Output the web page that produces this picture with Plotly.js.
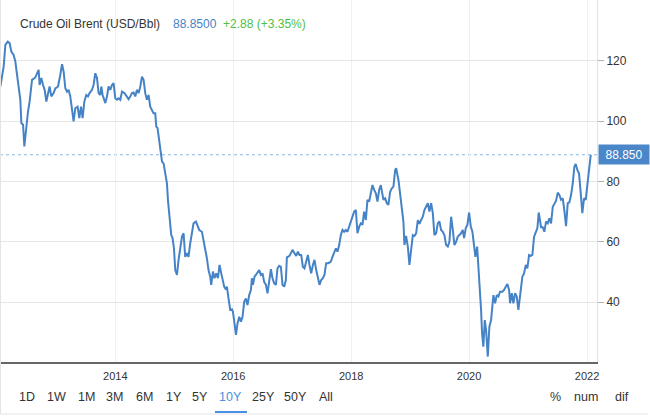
<!DOCTYPE html>
<html>
<head>
<meta charset="utf-8">
<script src="https://cdn.plot.ly/plotly-3.0.1.min.js"></script>
<style>
  html, body { margin: 0; padding: 0; background: #ffffff; }
  #chart { width: 650px; height: 417px; }
</style>
</head>
<body>
<div id="chart"></div>
<script>
// ---- data ----
const seriesName = "Crude Oil Brent (USD/Bbl)";
const lastPrice = 88.85;
const lastPriceText = "88.8500";
const changeText = "+2.88 (+3.35%)";
const lastLabel = "88.850";

// time in decimal years
const years = [
2012.051,2012.107,2012.136,2012.175,2012.208,2012.237,2012.276,2012.305,2012.334,2012.361,
2012.390,2012.407,2012.436,2012.458,2012.486,2012.520,2012.547,2012.588,2012.644,2012.683,
2012.700,2012.717,2012.746,2012.775,2012.802,2012.831,2012.859,2012.886,2012.915,2012.954,
2012.983,2013.029,2013.068,2013.097,2013.124,2013.153,2013.181,2013.208,2013.237,2013.266,
2013.293,2013.322,2013.361,2013.390,2013.419,2013.446,2013.475,2013.508,2013.537,2013.564,
2013.605,2013.632,2013.661,2013.690,2013.717,2013.746,2013.763,2013.785,2013.831,2013.859,
2013.886,2013.915,2013.944,2013.971,2014.000,2014.029,2014.056,2014.085,2014.114,2014.158,
2014.198,2014.225,2014.254,2014.283,2014.310,2014.339,2014.368,2014.395,2014.424,2014.453,
2014.480,2014.508,2014.537,2014.564,2014.593,2014.622,2014.649,2014.678,2014.695,2014.717,
2014.746,2014.775,2014.792,2014.819,2014.847,2014.876,2014.893,2014.915,2014.949,2014.971,
2014.995,2015.017,2015.046,2015.073,2015.102,2015.131,2015.158,2015.186,2015.215,2015.242,
2015.271,2015.300,2015.327,2015.368,2015.395,2015.424,2015.469,2015.497,2015.525,2015.554,
2015.581,2015.610,2015.627,2015.656,2015.683,2015.712,2015.741,2015.768,2015.797,2015.819,
2015.847,2015.876,2015.893,2015.920,2015.949,2015.978,2015.995,2016.022,2016.046,2016.073,
2016.102,2016.131,2016.158,2016.186,2016.215,2016.242,2016.271,2016.300,2016.317,2016.334,
2016.361,2016.402,2016.441,2016.469,2016.497,2016.525,2016.554,2016.581,2016.610,2016.639,
2016.666,2016.695,2016.724,2016.751,2016.780,2016.808,2016.836,2016.864,2016.893,2016.910,
2016.954,2016.983,2017.005,2017.039,2017.068,2017.097,2017.124,2017.153,2017.181,2017.208,
2017.237,2017.266,2017.293,2017.322,2017.351,2017.378,2017.407,2017.436,2017.463,2017.492,
2017.520,2017.547,2017.576,2017.615,2017.656,2017.683,2017.712,2017.741,2017.768,2017.797,
2017.825,2017.853,2017.881,2017.910,2017.937,2017.966,2017.995,2018.022,2018.051,2018.080,
2018.107,2018.136,2018.164,2018.192,2018.220,2018.249,2018.276,2018.305,2018.334,2018.361,
2018.390,2018.419,2018.446,2018.475,2018.503,2018.547,2018.576,2018.605,2018.632,2018.661,
2018.690,2018.717,2018.746,2018.763,2018.802,2018.831,2018.859,2018.886,2018.903,2018.932,
2018.961,2018.988,2019.017,2019.046,2019.073,2019.102,2019.131,2019.158,2019.186,2019.215,
2019.242,2019.271,2019.300,2019.327,2019.356,2019.385,2019.412,2019.441,2019.469,2019.497,
2019.525,2019.554,2019.581,2019.610,2019.639,2019.666,2019.695,2019.724,2019.751,2019.780,
2019.808,2019.836,2019.864,2019.893,2019.915,2019.944,2019.971,2020.000,2020.029,2020.056,
2020.085,2020.107,2020.136,2020.158,2020.186,2020.203,2020.220,2020.242,2020.266,2020.288,
2020.317,2020.344,2020.373,2020.412,2020.441,2020.469,2020.497,2020.525,2020.564,2020.593,
2020.622,2020.649,2020.678,2020.695,2020.724,2020.751,2020.780,2020.808,2020.836,2020.864,
2020.903,2020.932,2020.961,2020.988,2021.017,2021.046,2021.073,2021.102,2021.131,2021.158,
2021.181,2021.203,2021.220,2021.249,2021.276,2021.305,2021.334,2021.361,2021.390,2021.419,
2021.446,2021.475,2021.503,2021.531,2021.559,2021.588,2021.615,2021.644,2021.673,2021.700,
2021.729,2021.758,2021.785,2021.808,2021.836,2021.864,2021.893,2021.920,2021.949,2021.978,
2022.005,2022.034,2022.063
];

// Brent price, USD per barrel
const prices = [
111.5,118.1,125.3,126.4,125.9,123.1,122.0,119.8,115.4,110.9,
107.1,99.4,98.8,91.6,97.7,103.2,106.5,113.7,114.5,115.9,
117.0,112.0,114.3,112.0,110.4,106.5,109.8,111.5,108.2,109.3,
110.9,111.5,115.4,118.9,116.4,110.9,109.8,110.4,108.2,103.2,
99.9,104.3,104.8,101.0,104.8,101.0,106.5,108.7,108.2,109.3,
110.4,112.0,115.9,114.3,109.3,108.7,111.5,108.7,106.0,108.2,
111.5,110.4,112.0,112.6,107.6,107.1,107.6,107.1,109.8,109.3,
108.2,107.3,108.2,109.3,109.5,108.2,110.4,109.3,111.5,114.8,
113.7,109.3,107.1,108.7,104.8,103.7,102.6,102.6,98.2,97.7,
92.7,89.4,86.6,86.0,82.7,79.4,73.9,68.3,62.2,61.2,
57.8,50.6,49.0,54.0,58.4,61.7,62.8,55.0,56.2,55.0,
59.5,63.9,66.1,66.7,65.6,63.9,63.3,60.6,57.8,54.5,
50.6,48.4,45.7,50.1,47.9,49.5,47.9,52.3,49.5,47.9,
45.1,44.2,45.1,41.2,37.4,37.6,36.8,32.9,29.1,32.9,
35.1,33.5,35.1,40.1,41.2,39.0,42.3,44.0,47.9,45.7,
48.4,49.5,50.6,49.0,49.5,46.7,45.7,42.9,47.3,50.9,
47.9,46.2,45.7,51.2,52.0,51.7,45.7,45.1,47.3,54.8,
55.3,56.2,57.3,56.2,55.3,56.7,55.6,55.6,51.7,51.2,
54.0,55.6,52.3,49.5,52.3,54.0,50.6,47.9,45.7,47.3,
47.9,49.0,52.9,52.9,53.4,55.0,56.7,57.8,56.7,58.9,
62.2,63.9,63.3,63.9,63.3,65.0,67.2,68.9,70.0,70.5,
62.8,65.0,66.1,65.6,70.0,67.2,73.9,73.3,76.1,78.8,
77.2,76.1,73.3,77.2,78.8,73.9,74.4,72.8,72.2,76.6,
77.7,78.3,83.8,84.4,80.5,76.1,71.6,66.7,58.9,61.9,
58.4,52.3,57.3,62.2,61.9,62.8,67.2,65.9,67.2,68.3,
70.5,71.6,72.8,70.0,72.8,69.5,62.2,62.8,66.1,66.7,
63.9,63.3,62.2,58.9,58.4,60.0,68.3,63.9,58.9,60.0,
61.7,62.2,62.8,63.9,61.2,64.5,65.6,69.7,65.0,63.3,
58.9,55.0,58.4,51.7,44.0,37.4,29.6,25.2,34.0,30.7,
21.9,31.8,34.0,42.3,39.6,42.3,41.8,43.4,43.4,44.0,
45.1,46.0,44.0,39.6,42.9,39.6,42.9,41.8,37.4,41.8,
48.4,49.5,52.3,51.2,55.6,55.3,55.6,61.7,63.3,64.5,
69.7,67.2,64.8,64.8,63.3,66.7,66.1,67.8,66.1,71.6,
72.8,73.6,76.3,75.5,73.9,74.4,70.5,65.2,72.8,73.0,
75.5,79.4,84.9,85.8,83.8,82.7,76.1,69.5,74.4,73.9,
78.8,83.8,88.85
];

const xTickVals = [2014, 2016, 2018, 2020, 2022];
const xTickText = ["2014", "2016", "2018", "2020", "2022"];
const yTickVals = [40, 60, 80, 100, 120];
const rangeButtons = ["1D","1W","1M","3M","6M","1Y","5Y","10Y","25Y","50Y","All"];
const activeButton = "10Y";
const modeButtons = ["%", "num", "dif"];

// ---- styling / layout ----
const LINE_BLUE = "#4683c6";
const TEXT = "#333333";
const FONT = "Liberation Sans, Arial, Helvetica, sans-serif";

const plotW = 597, plotH = 362;              // plot area in px (l=0, t=0)
const px = v => v / plotW;                   // px -> paper x
const py = v => (plotH - v) / plotH;         // px (from top) -> paper y

const btnX = [27, 56, 86, 114, 144, 174, 200, 230, 263, 295, 326];
const modeX = [555, 586, 622];

const annotations = [
  { xref: "paper", yref: "paper", x: px(18), y: py(24), xanchor: "left", yanchor: "middle",
    text: seriesName, showarrow: false, font: { family: FONT, size: 12, color: TEXT } },
  { xref: "paper", yref: "paper", x: px(171), y: py(24), xanchor: "left", yanchor: "middle",
    text: lastPriceText, showarrow: false, font: { family: FONT, size: 12, color: LINE_BLUE } },
  { xref: "paper", yref: "paper", x: px(221), y: py(24), xanchor: "left", yanchor: "middle",
    text: changeText, showarrow: false, font: { family: FONT, size: 12, color: "#4fbf43" } },
  { xref: "paper", yref: "y", x: 1, y: lastPrice, xanchor: "left", yanchor: "middle",
    xshift: 1, text: lastLabel, showarrow: false, bgcolor: "#4a86c8", width: 48, height: 17,
    borderpad: 1, font: { family: FONT, size: 12, color: "#ffffff" } }
];
rangeButtons.forEach((b, i) => annotations.push({
  xref: "paper", yref: "paper", x: px(btnX[i]), y: py(397), xanchor: "center", yanchor: "middle",
  text: b, showarrow: false,
  font: { family: FONT, size: 12.5, color: b === activeButton ? "#4a90e2" : TEXT }
}));
modeButtons.forEach((b, i) => annotations.push({
  xref: "paper", yref: "paper", x: px(modeX[i]), y: py(397), xanchor: "center", yanchor: "middle",
  text: b, showarrow: false, font: { family: FONT, size: 12.5, color: TEXT }
}));

const shapes = [
  { type: "line", xref: "paper", yref: "y", x0: 0, x1: 1, y0: lastPrice, y1: lastPrice,
    line: { color: "#8ab6e4", width: 1, dash: "dot" }, layer: "below" },
  { type: "line", xref: "paper", yref: "paper", x0: px(215), x1: px(247), y0: py(412), y1: py(412),
    line: { color: "#4a90e2", width: 2 } },
  { type: "line", xref: "paper", yref: "paper", x0: px(0.5), x1: px(0.5), y0: py(414), y1: 1,
    line: { color: "#e4e4e4", width: 1 } },
  { type: "line", xref: "paper", yref: "paper", x0: px(0.5), x1: px(648), y0: py(414), y1: py(414),
    line: { color: "#e4e4e4", width: 1 } }
];

const trace = {
  x: years, y: prices, type: "scatter", mode: "lines",
  line: { color: LINE_BLUE, width: 2 }, hoverinfo: "x+y"
};

const layout = {
  width: 650, height: 417,
  margin: { l: 0, r: 53, t: 0, b: 55, pad: 0 },
  paper_bgcolor: "#ffffff", plot_bgcolor: "#ffffff",
  showlegend: false,
  font: { family: FONT, color: TEXT },
  xaxis: {
    type: "linear", range: [2012.045, 2022.169],
    tickmode: "array", tickvals: xTickVals, ticktext: xTickText,
    showgrid: true, gridcolor: "#eef0f2", gridwidth: 1,
    zeroline: false, showline: true, linecolor: "#666666", linewidth: 2,
    ticks: "", ticklabelstandoff: 3,
    tickfont: { family: FONT, size: 11, color: TEXT }, fixedrange: true
  },
  yaxis: {
    side: "right", range: [20.1, 140.2],
    tickmode: "array", tickvals: yTickVals,
    showgrid: true, gridcolor: "#e6e6e6", gridwidth: 1,
    zeroline: false, showline: true, linecolor: "#e2e2e2", linewidth: 1,
    ticks: "outside", ticklen: 6, tickcolor: "#b0b0b0", tickwidth: 1,
    tickfont: { family: FONT, size: 12, color: TEXT }, fixedrange: true
  },
  annotations: annotations,
  shapes: shapes
};

Plotly.newPlot("chart", [trace], layout, { displayModeBar: false, staticPlot: true });
</script>
</body>
</html>
